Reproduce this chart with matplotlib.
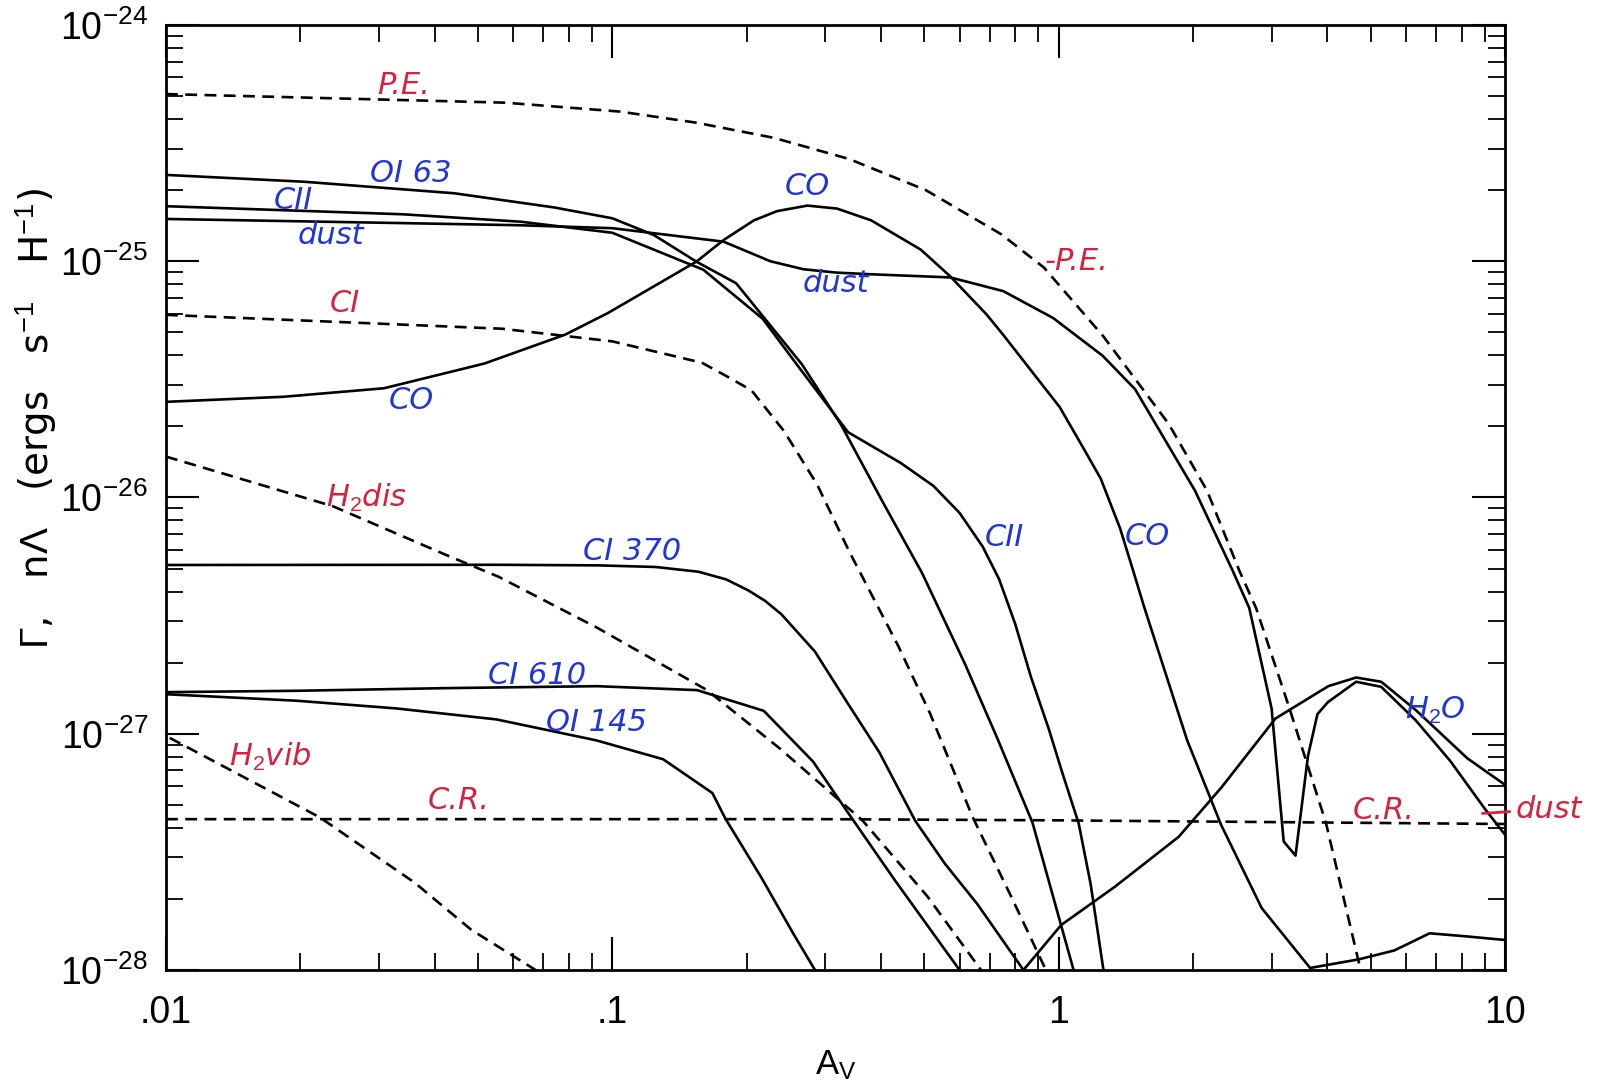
import numpy as np
import matplotlib
matplotlib.use("Agg")
import matplotlib.pyplot as plt
from matplotlib.ticker import LogLocator, NullFormatter

# ---- curves: A_V and heating / cooling rate per H ----
pe_av = [0.01, 0.0576, 0.104, 0.154, 0.23, 0.339, 0.504, 0.744, 0.927, 1.256, 1.764, 2.15, 2.54, 2.77, 3.29, 3.97, 4.76, 5.0]
pe = [5.1e-25, 4.69e-25, 4.30e-25, 3.86e-25, 3.33e-25, 2.71e-25, 2.0e-25, 1.30e-25, 9.4e-26, 4.84e-26, 2.05e-26,
      1.07e-26, 4.9e-27, 3.4e-27, 1.28e-27, 4.2e-28, 9.8e-29, 6.5e-29]

ci_av = [0.01, 0.0566, 0.1, 0.1587, 0.182, 0.2051, 0.2425, 0.2877, 0.3396, 0.4368, 0.515, 0.6413, 0.7844, 0.925, 1.0]
ci = [5.93e-26, 5.18e-26, 4.58e-26, 3.72e-26, 3.23e-26, 2.84e-26, 1.91e-26, 1.135e-26, 5.9e-27, 2.36e-27,
      1.22e-27, 4.45e-28, 2.03e-28, 1.05e-28, 7.7e-29]

h2dis_av = [0.01, 0.0236, 0.043, 0.0556, 0.0928, 0.163, 0.2366, 0.3634, 0.508, 0.6675, 0.72]
h2dis = [1.49e-26, 9.2e-27, 5.65e-27, 4.62e-27, 2.8e-27, 1.53e-27, 8.7e-28, 4.3e-28, 2.05e-28, 1.01e-28, 8.3e-29]

h2vib_av = [0.0102, 0.0221, 0.0361, 0.0483, 0.0673, 0.075]
h2vib = [9.6e-28, 4.43e-28, 2.34e-28, 1.48e-28, 1.0e-28, 8.5e-29]

cr_av = [0.01, 0.3, 1.0, 10.0]
cr = [4.35e-28, 4.35e-28, 4.3e-28, 4.15e-28]

oi63_av = [0.01, 0.0204, 0.0442, 0.074, 0.1, 0.124, 0.1543, 0.1894, 0.266, 0.3256, 0.4044, 0.4943, 0.6164,
           0.727, 0.874, 1.08]
oi63 = [2.32e-25, 2.17e-25, 1.94e-25, 1.69e-25, 1.52e-25, 1.29e-25, 9.96e-26, 8.07e-26, 3.66e-26, 2.03e-26,
        9.5e-27, 4.79e-27, 1.98e-27, 9.67e-28, 4.2e-28, 1.0e-28]

cii_av = [0.01, 0.034, 0.0623, 0.1, 0.16, 0.2172, 0.266, 0.3374, 0.4428, 0.524, 0.60, 0.6756, 0.736, 0.80,
          0.866, 0.95, 1.02, 1.109, 1.18, 1.26]
cii = [1.71e-25, 1.58e-25, 1.47e-25, 1.32e-25, 9.2e-26, 5.71e-26, 3.42e-26, 1.89e-26, 1.40e-26, 1.12e-26,
       8.6e-27, 6.2e-27, 4.5e-27, 2.9e-27, 1.75e-27, 1.05e-27, 6.8e-28, 4.17e-28, 2.3e-28, 1.0e-28]

dust_av = [0.01, 0.034, 0.0623, 0.1, 0.1776, 0.226, 0.268, 0.318, 0.3786, 0.572, 0.752, 0.972, 1.255, 1.484,
           2.02, 2.454, 2.673, 3.0, 3.193, 3.394, 3.62, 3.80, 4.01, 4.64, 5.28, 6.31, 7.54, 9.0, 10.0]
dust = [1.51e-25, 1.45e-25, 1.42e-25, 1.38e-25, 1.21e-25, 1.0e-25, 9.25e-26, 8.95e-26, 8.81e-26, 8.54e-26,
        7.47e-26, 5.75e-26, 3.98e-26, 2.87e-26, 1.07e-26, 4.9e-27, 3.41e-27, 1.28e-27, 3.5e-28, 3.05e-28,
        8.07e-28, 1.21e-27, 1.36e-27, 1.66e-27, 1.58e-27, 1.14e-27, 7.67e-28, 4.83e-28, 3.74e-28]

co_av = [0.01, 0.0184, 0.0308, 0.0517, 0.0784, 0.0975, 0.1543, 0.1776, 0.2077, 0.234, 0.2736, 0.319, 0.380,
         0.491, 0.572, 0.688, 0.75, 1.006, 1.14, 1.243, 1.373, 1.464, 1.553, 1.94, 2.31, 2.85, 3.66, 4.71,
         5.65, 6.78, 8.12, 10.0]
co = [2.54e-26, 2.67e-26, 2.90e-26, 3.69e-26, 4.89e-26, 6.02e-26, 9.96e-26, 1.23e-25, 1.49e-25, 1.63e-25,
      1.72e-25, 1.67e-25, 1.49e-25, 1.12e-25, 8.62e-26, 5.98e-26, 4.9e-26, 2.41e-26, 1.6e-26, 1.2e-26, 7.4e-27,
      5.0e-27, 3.46e-27, 9.4e-28, 4.13e-28, 1.83e-28, 1.02e-28, 1.11e-28, 1.21e-28, 1.43e-28, 1.39e-28, 1.34e-28]

ci370_av = [0.01, 0.0556, 0.0932, 0.125, 0.156, 0.18, 0.2019, 0.22, 0.239, 0.2843, 0.3356, 0.3967, 0.4776,
            0.556, 0.6576, 0.834]
ci370 = [5.18e-27, 5.19e-27, 5.16e-27, 5.08e-27, 4.85e-27, 4.5e-27, 4.04e-27, 3.65e-27, 3.21e-27, 2.23e-27,
         1.36e-27, 8.33e-28, 4.27e-28, 2.82e-28, 1.9e-28, 1.0e-28]

ci610_av = [0.01, 0.0196, 0.0425, 0.0924, 0.1548, 0.2185, 0.2818, 0.333, 0.4288, 0.602]
ci610 = [1.50e-27, 1.52e-27, 1.56e-27, 1.59e-27, 1.53e-27, 1.25e-27, 7.62e-28, 4.8e-28, 2.41e-28, 9.9e-29]

oi145_av = [0.01, 0.0196, 0.0328, 0.055, 0.092, 0.13, 0.1676, 0.179, 0.2158, 0.2547, 0.2845]
oi145 = [1.47e-27, 1.38e-27, 1.28e-27, 1.15e-27, 9.38e-28, 7.8e-28, 5.61e-28, 4.39e-28, 2.46e-28, 1.42e-28, 1.0e-28]

h2o_av = [0.80, 0.834, 1.013, 1.336, 1.857, 2.315, 3.06, 4.02, 4.64, 5.28, 6.31, 8.23, 10.0]
h2o = [9e-29, 1.0e-28, 1.55e-28, 2.25e-28, 3.66e-28, 5.92e-28, 1.16e-27, 1.59e-27, 1.73e-27, 1.66e-27,
       1.26e-27, 7.88e-28, 6.08e-28]

x_ticks = [0.01, 0.1, 1, 10]
x_labels = [".01", ".1", "1", "10"]
y_ticks = [1e-28, 1e-27, 1e-26, 1e-25, 1e-24]
y_labels = [r"$10^{-28}$", r"$10^{-27}$", r"$10^{-26}$", r"$10^{-25}$", r"$10^{-24}$"]

plt.rcParams['font.family'] = ['Liberation Sans', 'DejaVu Sans']
plt.rcParams['mathtext.fontset'] = 'custom'
plt.rcParams['mathtext.rm'] = 'Liberation Sans'
plt.rcParams['mathtext.it'] = 'Liberation Sans:italic'
plt.rcParams['mathtext.bf'] = 'Liberation Sans:bold'

fig = plt.figure(figsize=(15.99, 10.91), dpi=100)
ax = fig.add_axes([0.1038, 0.1109, 0.8374, 0.8662])

solid = dict(color="black", lw=1.9)
dashed = dict(color="black", lw=1.9, ls=(0, (4.5, 2.8)))

# heating terms (dashed)
ax.plot(pe_av, pe, **dashed)
ax.plot(ci_av, ci, **dashed)
ax.plot(h2dis_av, h2dis, **dashed)
ax.plot(h2vib_av, h2vib, **dashed)
ax.plot(cr_av, cr, **dashed)

# cooling terms (solid)
ax.plot(oi63_av, oi63, **solid)
ax.plot(cii_av, cii, **solid)
ax.plot(dust_av, dust, **solid)
ax.plot(co_av, co, **solid)
ax.plot(ci370_av, ci370, **solid)
ax.plot(ci610_av, ci610, **solid)
ax.plot(oi145_av, oi145, **solid)
ax.plot(h2o_av, h2o, **solid)

ax.set_xscale("log")
ax.set_yscale("log")
ax.set_xlim(0.01, 10)
ax.set_ylim(1e-28, 1e-24)

ax.set_xticks(x_ticks, x_labels)
ax.set_yticks(y_ticks, y_labels)
ax.xaxis.set_minor_locator(LogLocator(base=10, subs=np.arange(2, 10) * 1.0, numticks=100))
ax.yaxis.set_minor_locator(LogLocator(base=10, subs=np.arange(2, 10) * 1.0, numticks=100))
ax.xaxis.set_minor_formatter(NullFormatter())
ax.yaxis.set_minor_formatter(NullFormatter())

ax.tick_params(which="major", direction="in", length=24, width=1.5, top=True, right=True, labelsize=27)
ax.tick_params(which="minor", direction="in", length=12, width=1.3, top=True, right=True)
ax.tick_params(axis="x", pad=18)
ax.tick_params(axis="y", pad=13)
for sp in ax.spines.values():
    sp.set_linewidth(2)

ax.set_xlabel(r"A$_\mathrm{V}$", fontsize=25)
ax.xaxis.set_label_coords(0.5, -0.083)
ax.set_ylabel(r"$\Gamma$,   n$\Lambda$   (ergs   s$^{-1}$   H$^{-1}$)", fontsize=28, family=["DejaVu Sans"])
ax.yaxis.set_label_coords(-0.080, 0.584)

# hand written curve labels
blue = "#1f35d8"
red = "#d8203f"
labels = [
    ("P.E.", 0.034, 5.55e-25, red),
    ("OI 63", 0.0354, 2.35e-25, blue),
    ("CII", 0.0193, 1.80e-25, blue),
    ("dust", 0.0234, 1.28e-25, blue),
    ("CI", 0.0251, 6.63e-26, red),
    ("CO", 0.0354, 2.57e-26, blue),
    (r"H$_2$dis", 0.0282, 1.0e-26, red),
    ("CI 370", 0.1107, 5.89e-27, blue),
    ("CI 610", 0.0678, 1.77e-27, blue),
    ("OI 145", 0.092, 1.12e-27, blue),
    (r"H$_2$vib", 0.0171, 8.0e-28, red),
    ("C.R.", 0.0453, 5.2e-28, red),
    ("CO", 0.274, 2.08e-25, blue),
    ("dust", 0.3176, 8.03e-26, blue),
    ("CII", 0.757, 6.79e-27, blue),
    ("CO", 1.58, 6.84e-27, blue),
    (r"H$_2$O", 7.0, 1.26e-27, blue),
    ("C.R.", 5.34, 4.75e-28, red),
]
for txt, lx, ly, col in labels:
    ax.text(lx, ly, txt, color=col, fontsize=22, style="italic", family=["DejaVu Sans"],
            ha="center", va="center")

ax.text(0.93, 1.0e-25, "-P.E.", color=red, fontsize=22, style="italic", family=["DejaVu Sans"],
        ha="left", va="center")
ax.annotate("dust", xy=(8.9, 4.6e-28), xytext=(10.55, 4.8e-28), color=red, fontsize=22, style="italic",
            family=["DejaVu Sans"], ha="left", va="center", annotation_clip=False,
            arrowprops=dict(arrowstyle="-", color=red, lw=2, shrinkA=2, shrinkB=0))

fig.savefig("out.png", dpi=100, facecolor="white")
